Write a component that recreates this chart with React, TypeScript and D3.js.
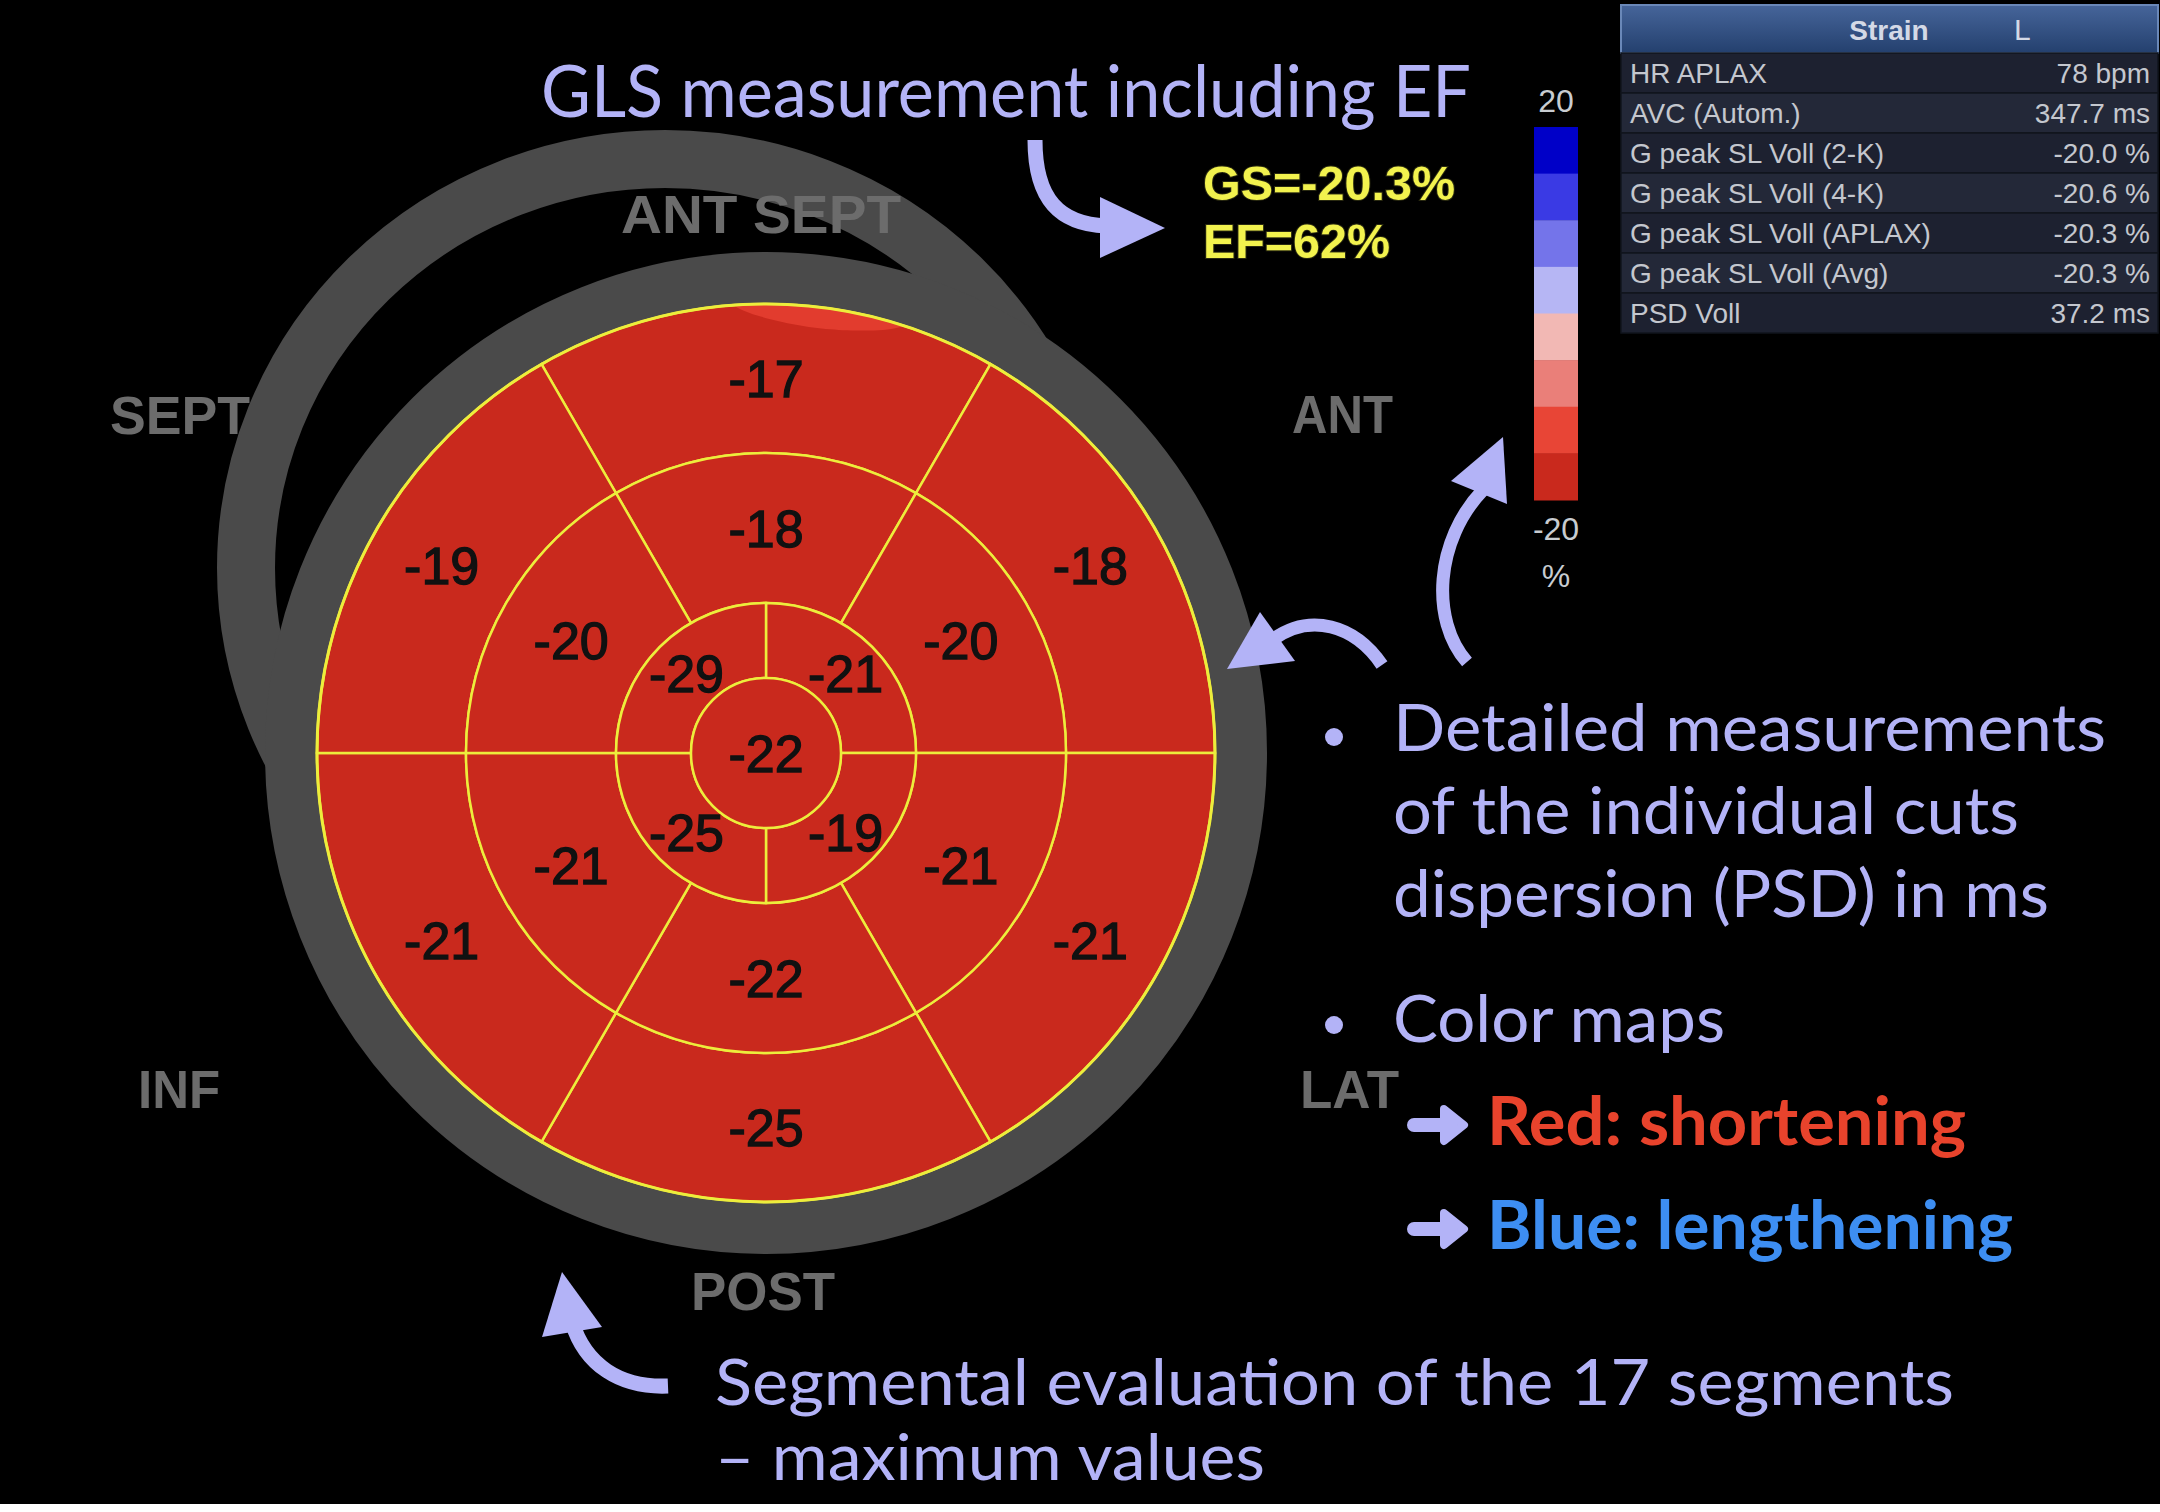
import React from "react";
import * as d3 from "d3";

// strain values (%), clockwise starting at the top segment
const basalValues = [-17, -18, -21, -25, -21, -19];
const midValues = [-18, -20, -21, -22, -21, -20];
// apical quadrants, clockwise starting at upper right
const apicalValues = [-21, -19, -25, -29];
const apexValue = -22;

const legendColors = ["#0000c8", "#3a3ae4", "#7474ea", "#b6b6f4", "#f2b8b4", "#ea7f79", "#e84536", "#c9291d"];
const legendTicks = ["20", "-20"];

const tableLabels = [
	"HR APLAX",
	"AVC (Autom.)",
	"G peak SL Voll (2-K)",
	"G peak SL Voll (4-K)",
	"G peak SL Voll (APLAX)",
	"G peak SL Voll (Avg)",
	"PSD Voll",
];
const tableValues = ["78 bpm", "347.7 ms", "-20.0 %", "-20.6 %", "-20.3 %", "-20.3 %", "37.2 ms"];

const directionLabels = ["ANT SEPT", "SEPT", "ANT", "INF", "LAT", "POST"];
const globalValues = ["GS=-20.3%", "EF=62%"];

const LAV = "#b3b3f7";
const GREY = "#4a4a4a";
const sans = "Lato, 'Open Sans', sans-serif";
const arial = "'Liberation Sans', Arial, sans-serif";

// heavy round-tipped arrow used in the bullet list
function BulletArrow({ x, y }: { x: number; y: number }) {
	return (
		<g transform={`translate(${x},${y})`} fill={LAV} stroke={LAV} strokeLinejoin="round" strokeLinecap="round">
			<line x1={6} y1={0} x2={38} y2={0} strokeWidth={14} />
			<polygon points="36,-16 56,0 36,16" strokeWidth={8} />
		</g>
	);
}

export default function App() {
	const cx = 766;
	const cy = 753;
	const deg = Math.PI / 180;
	const arc = d3.arc<any>();
	const color = d3
		.scaleQuantize<string>()
		.domain([-20, 20])
		.range([...legendColors].reverse());

	const basal = basalValues.map((v, i) => ({ v, innerRadius: 300, outerRadius: 449, startAngle: (i * 60 - 30) * deg, endAngle: (i * 60 + 30) * deg }));
	const mid = midValues.map((v, i) => ({ v, innerRadius: 150, outerRadius: 300, startAngle: (i * 60 - 30) * deg, endAngle: (i * 60 + 30) * deg }));
	const apical = apicalValues.map((v, i) => ({ v, innerRadius: 75, outerRadius: 150, startAngle: i * 90 * deg, endAngle: (i + 1) * 90 * deg }));
	const apex = [{ v: apexValue, innerRadius: 0, outerRadius: 75, startAngle: 0, endAngle: 2 * Math.PI }];
	const segments = [...basal, ...mid, ...apical, ...apex];

	const legendY = d3.scaleBand<number>().domain(legendColors.map((_, i) => i)).range([127, 500]);
	const rowY = d3.scaleBand<string>().domain(tableLabels).range([53, 333]);

	const dirPos: Record<string, [number, number, number]> = {
		"ANT SEPT": [621, 233, 280],
		SEPT: [110, 434, 140],
		ANT: [1292, 433, 101],
		INF: [138, 1108, 82],
		LAT: [1300, 1108, 99],
		POST: [691, 1310, 144],
	};

	const patch = d3
		.areaRadial<number>()
		.angle((a) => a)
		.outerRadius(448)
		.innerRadius((a) => 448 - 20 * Math.pow(Math.sin((Math.PI * (a + 0.07)) / 0.38), 0.7))
		.curve(d3.curveBasis)(d3.range(-0.07, 0.311, 0.02));

	return (
		<svg width={2160} height={1512} style={{ position: "absolute", left: 0, top: 0, display: "block" }}>
			<defs>
				<linearGradient id="hdr" x1="0" y1="0" x2="0" y2="1">
					<stop offset="0" stopColor="#46659a" />
					<stop offset="1" stopColor="#24406e" />
				</linearGradient>
			</defs>
			<rect width={2160} height={1512} fill="#000" />
			<rect y={1504} width={2160} height={8} fill="#fff" />

			{/* grey outline of the heart */}
			<ellipse cx={665} cy={568} rx={419} ry={409} fill="none" stroke={GREY} strokeWidth={58} />
			<circle cx={cx} cy={cy} r={475} fill="none" stroke={GREY} strokeWidth={52} />

			{/* bull's eye */}
			<g transform={`translate(${cx},${cy})`}>
				{segments.map((d, i) => (
					<path key={i} d={arc(d) as string} fill={color(d.v)} stroke="#eded3c" strokeWidth={2.5} />
				))}
				<path d={patch as string} fill="#e23c2e" />
				<circle r={449} fill="none" stroke="#eded3c" strokeWidth={3} />
				{segments.map((d, i) => {
					const [x, y] = d.innerRadius === 0 ? [0, 0] : arc.centroid(d);
					return (
						<text key={i} x={x} y={y} dy="0.36em" textAnchor="middle" fontFamily={arial} fontSize={52} fill="#111" stroke="#111" strokeWidth={1.3}>
							{d.v}
						</text>
					);
				})}
			</g>

			{directionLabels.map((t) => {
				const [x, y, w] = dirPos[t];
				return (
					<text key={t} x={x} y={y} fontFamily={arial} fontWeight="bold" fontSize={53} fill="#6c6c6c" textLength={w} lengthAdjust="spacingAndGlyphs">
						{t}
					</text>
				);
			})}

			{/* global values */}
			{globalValues.map((t, i) => (
				<text key={t} x={1203} y={200 + i * 58} fontFamily={arial} fontWeight="bold" fontSize={48} fill="#f2f24e" stroke="#2a2a10" strokeWidth={2} paintOrder="stroke" textLength={i === 0 ? 252 : 187} lengthAdjust="spacingAndGlyphs">
					{t}
				</text>
			))}

			{/* colour bar */}
			{legendColors.map((c, i) => (
				<rect key={c} x={1534} y={legendY(i)} width={44} height={legendY.bandwidth() + 0.5} fill={c} />
			))}
			<text x={1556} y={112} textAnchor="middle" fontFamily={arial} fontSize={32} fill="#c8ccd0">{legendTicks[0]}</text>
			<text x={1556} y={540} textAnchor="middle" fontFamily={arial} fontSize={32} fill="#c8ccd0">{legendTicks[1]}</text>
			<text x={1556} y={587} textAnchor="middle" fontFamily={arial} fontSize={32} fill="#c8ccd0">%</text>

			{/* strain table */}
			<rect x={1621} y={5} width={537} height={48} fill="url(#hdr)" stroke="#6a88b8" strokeWidth={2} />
			<text x={1889} y={40} textAnchor="middle" fontFamily={arial} fontWeight="bold" fontSize={28} fill="#d4d9e6">Strain</text>
			<text x={2014} y={40} fontFamily={arial} fontSize={30} fill="#d4d9e6">L</text>
			{tableLabels.map((l, i) => (
				<g key={l}>
					<rect x={1621} y={rowY(l)} width={537} height={rowY.bandwidth()} fill={i % 2 ? "#232838" : "#1d2130"} stroke="#11141c" strokeWidth={1.5} />
					<text x={1630} y={(rowY(l) as number) + 30} fontFamily={arial} fontSize={28} fill="#c4c7ce">{l}</text>
					<text x={2150} y={(rowY(l) as number) + 30} textAnchor="end" fontFamily={arial} fontSize={28} fill="#c4c7ce">{tableValues[i]}</text>
				</g>
			))}

			{/* annotations */}
			<text x={541} y={117} fontFamily={sans} fontSize={72} fill={LAV} textLength={930} lengthAdjust="spacingAndGlyphs">GLS measurement including EF</text>
			<path d="M1035,140 C1035,200 1060,224 1106,226" fill="none" stroke={LAV} strokeWidth={15} />
			<polygon points="1100,197 1165,228 1100,258" fill={LAV} />

			<path d="M1467,662 C1430,620 1435,540 1483,490" fill="none" stroke={LAV} strokeWidth={13} />
			<polygon points="1503,437 1451,481 1507,504" fill={LAV} />

			<path d="M1382,665 C1355,625 1310,612 1272,640" fill="none" stroke={LAV} strokeWidth={13} />
			<polygon points="1227,669 1260,612 1295,661" fill={LAV} />

			<path d="M668,1386 C620,1388 585,1365 572,1322" fill="none" stroke={LAV} strokeWidth={15} />
			<polygon points="562,1272 542,1337 602,1327" fill={LAV} />

			<circle cx={1334} cy={737} r={9} fill={LAV} />
			<circle cx={1334} cy={1025} r={9} fill={LAV} />
			<text x={1393} y={751} fontFamily={sans} fontSize={66} fill={LAV} textLength={713} lengthAdjust="spacingAndGlyphs">Detailed measurements</text>
			<text x={1393} y={834} fontFamily={sans} fontSize={66} fill={LAV} textLength={626} lengthAdjust="spacingAndGlyphs">of the individual cuts</text>
			<text x={1393} y={917} fontFamily={sans} fontSize={66} fill={LAV} textLength={656} lengthAdjust="spacingAndGlyphs">dispersion (PSD) in ms</text>
			<text x={1393} y={1042} fontFamily={sans} fontSize={66} fill={LAV} textLength={332} lengthAdjust="spacingAndGlyphs">Color maps</text>

			<BulletArrow x={1408} y={1125} />
			<text x={1487} y={1145} fontFamily={sans} fontWeight={700} fontSize={66} fill="#e8432c" textLength={479} lengthAdjust="spacingAndGlyphs">Red: shortening</text>
			<BulletArrow x={1408} y={1229} />
			<text x={1487} y={1249} fontFamily={sans} fontWeight={700} fontSize={66} fill="#3d8ef2" textLength={526} lengthAdjust="spacingAndGlyphs">Blue: lengthening</text>

			<text x={715} y={1405} fontFamily={sans} fontSize={64} fill={LAV} textLength={1239} lengthAdjust="spacingAndGlyphs">Segmental evaluation of the 17 segments</text>
			<text x={715} y={1480} fontFamily={sans} fontSize={64} fill={LAV} textLength={550} lengthAdjust="spacingAndGlyphs">– maximum values</text>
		</svg>
	);
}
